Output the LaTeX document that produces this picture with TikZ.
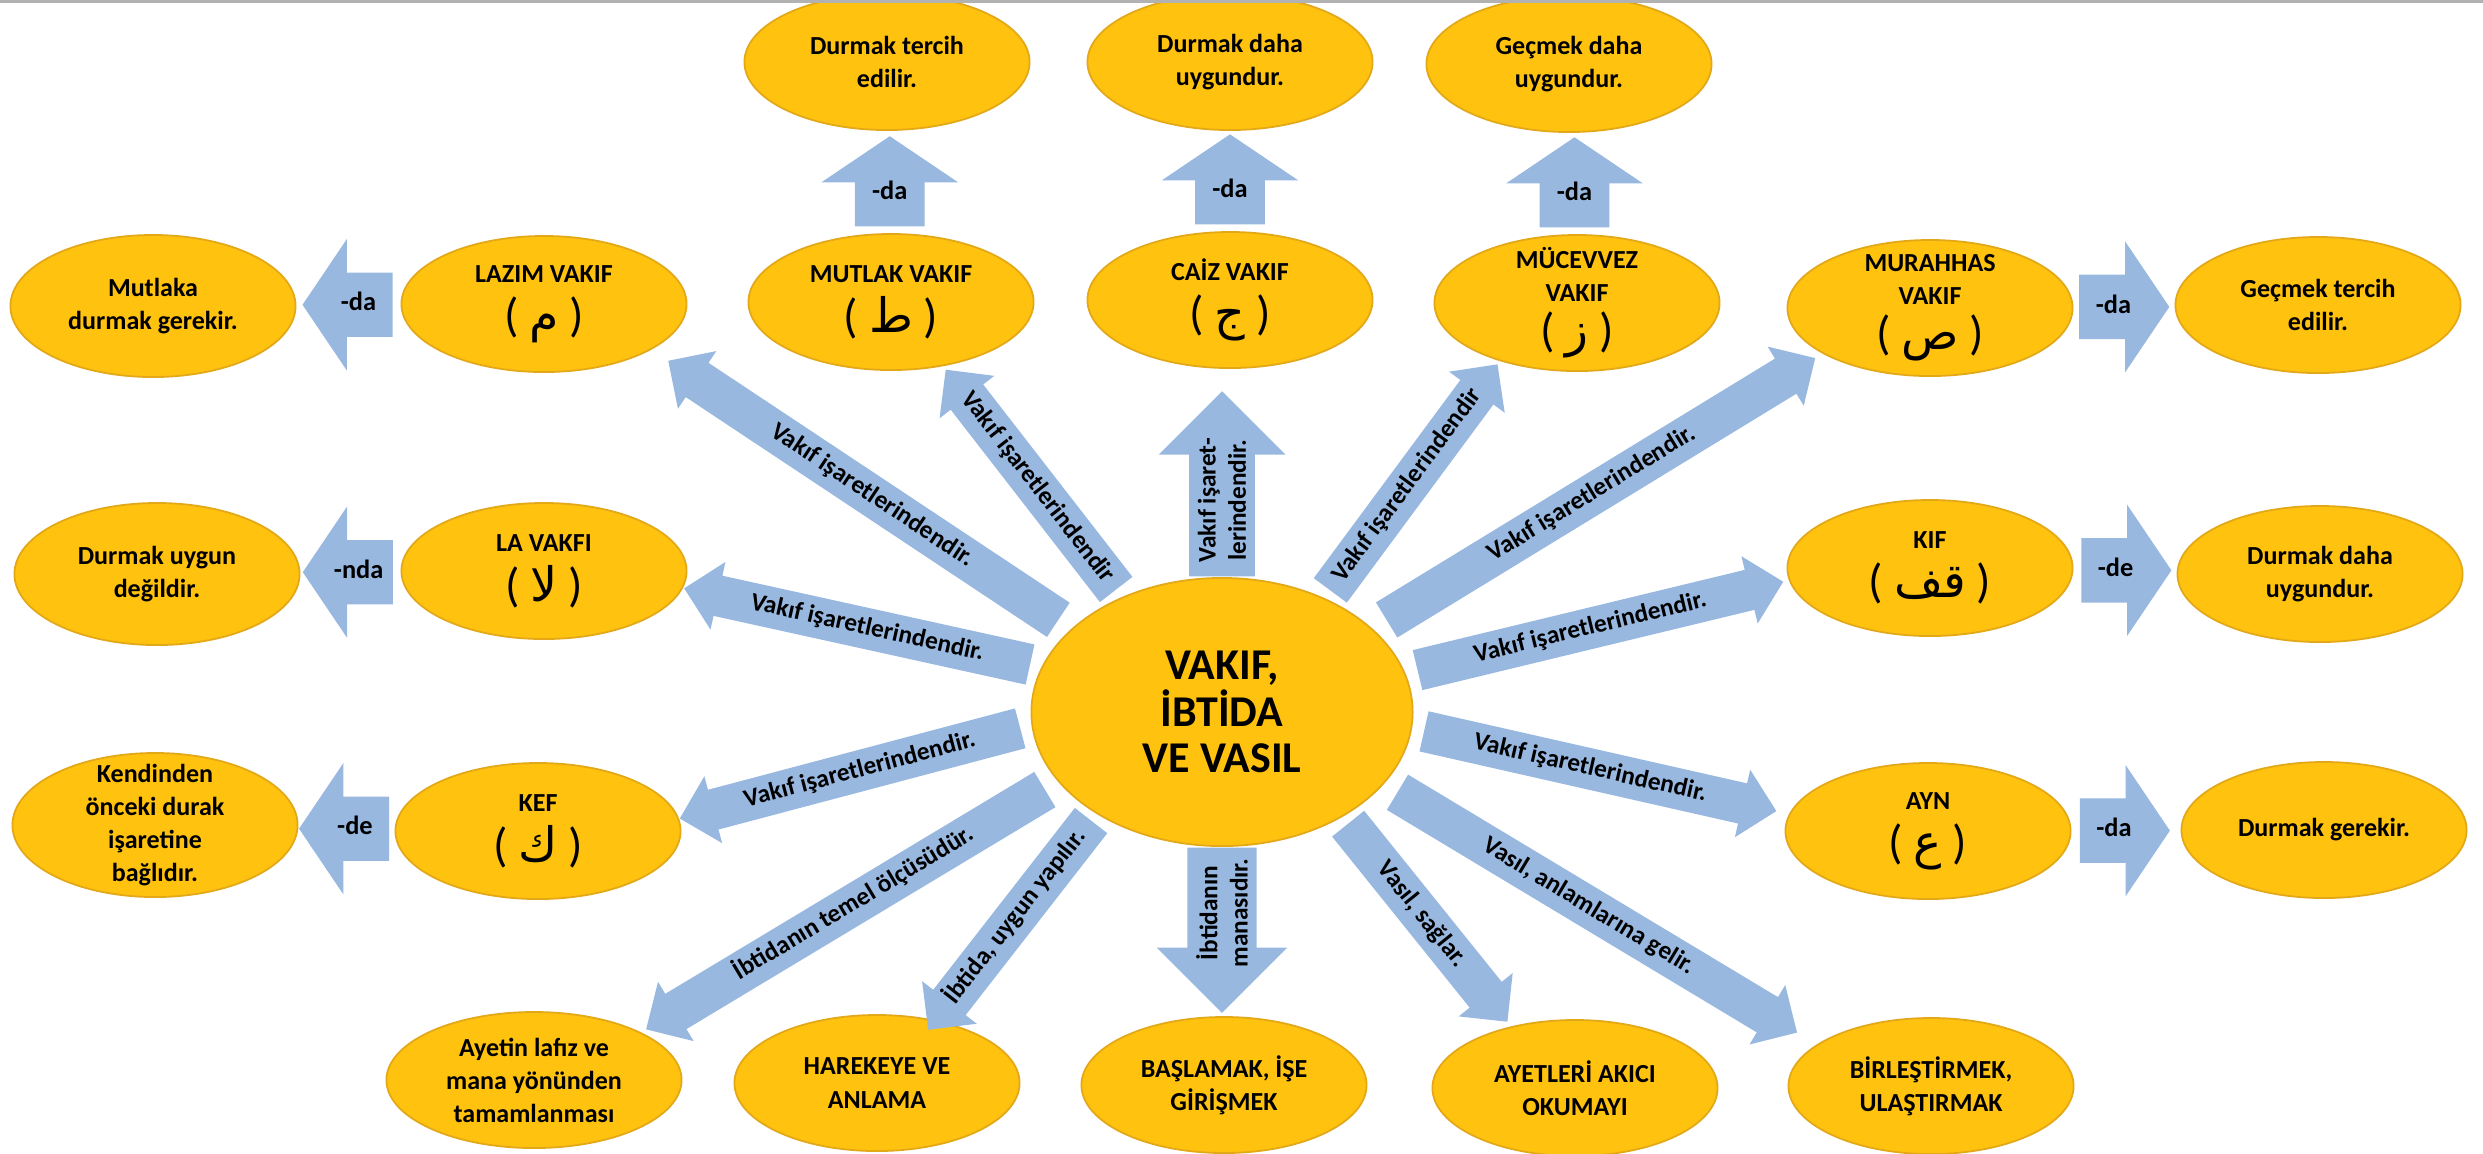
\documentclass[tikz,border=0pt]{standalone}
\usepackage{fontspec}
\setmainfont{Carlito}
\newfontfamily\arabicfont[Script=Arabic]{DejaVu Sans}
\TeXXeTstate=1
\usetikzlibrary{shapes.geometric,shapes.arrows}
\definecolor{vgold}{RGB}{255,194,14}
\definecolor{vrim}{RGB}{226,168,24}
\definecolor{vblue}{RGB}{152,184,224}

\begin{document}
\begin{tikzpicture}[x=0.01cm,y=-0.01cm,
  oval/.style={ellipse,fill=vgold,draw=vrim,line width=0.5pt,minimum width=2.85cm,minimum height=1.36cm,
    inner xsep=0pt,inner ysep=-6pt,align=center,font=\fontsize{7.4}{9.4}\selectfont\bfseries},
  hub/.style={oval,minimum width=3.81cm,minimum height=2.68cm,font=\fontsize{12.5}{13.2}\selectfont\bfseries},
  spoke/.style={single arrow,fill=vblue,single arrow tip angle=90,inner xsep=0pt,sloped,anchor=tail,
    font=\fontsize{7.2}{8.6}\selectfont\bfseries},
  oneline/.style={text height=5pt,text depth=1.5pt,inner ysep=2.4pt,single arrow head extend=4pt},
  twoline/.style={align=center,inner ysep=2.3pt,single arrow head extend=8.7pt},
  tipback/.style={shape border rotate=180},
  tipup/.style={shape border rotate=90,inner xsep=4.7pt},
  tag/.style={single arrow,fill=vblue,single arrow tip angle=112,single arrow head extend=9.5pt,
    inner xsep=-2pt,inner ysep=5.7pt,text height=5pt,text depth=1.5pt,minimum height=0.9cm,anchor=tail,
    font=\fontsize{7.5}{9}\selectfont\bfseries}]
  \useasboundingbox (0,0) rectangle (2483,1153);
  \node[hub] (c) at (1222,712) {VAKIF,\\İBTİDA\\VE VASIL};
  \node[oval] (rtercih) at (887,62) {Durmak tercih\\edilir.};
  \node[oval] (rdaha) at (1230,62) {Durmak daha\\uygundur.};
  \node[oval] (rgecmek) at (1569,64) {Geçmek daha\\uygundur.};
  \node[oval,minimum height=1.42cm] (mutlaka) at (153,306) {Mutlaka\\durmak gerekir.};
  \node[oval] (lazim) at (544,304)
    {LAZIM VAKIF\\[3pt]{\mdseries\fontsize{13.5}{15}\selectfont(~{\arabicfont\beginR م\endR}~)}};
  \node[oval] (mutlak) at (891,302)
    {MUTLAK VAKIF\\[3pt]{\mdseries\fontsize{13.5}{15}\selectfont(~{\arabicfont\beginR ط\endR}~)}};
  \node[oval] (caiz) at (1230,300)
    {CAİZ VAKIF\\[3pt]{\mdseries\fontsize{13.5}{15}\selectfont(~{\arabicfont\beginR ج\endR}~)}};
  \node[oval] (mucevvez) at (1577,303)
    {MÜCEVVEZ\\VAKIF\\[2pt]{\mdseries\fontsize{13.5}{15}\selectfont(~{\arabicfont\beginR ز\endR}~)}};
  \node[oval] (murahhas) at (1930,308)
    {MURAHHAS\\VAKIF\\[2pt]{\mdseries\fontsize{13.5}{15}\selectfont(~{\arabicfont\beginR ص\endR}~)}};
  \node[oval] (gtercih) at (2318,305) {Geçmek tercih\\edilir.};
  \node[oval,minimum height=1.42cm] (duygun) at (157,574) {Durmak uygun\\değildir.};
  \node[oval] (lavakfi) at (544,571)
    {LA VAKFI\\[3pt]{\mdseries\fontsize{13.5}{15}\selectfont(~{\arabicfont\beginR لا\endR}~)}};
  \node[oval] (kif) at (1930,568)
    {KIF\\[3pt]{\mdseries\fontsize{13.5}{15}\selectfont(~{\arabicfont\beginR قف\endR}~)}};
  \node[oval] (ddaha) at (2320,574) {Durmak daha\\uygundur.};
  \node[oval,minimum height=1.44cm] (kendinden) at (155,825)
    {Kendinden\\önceki durak\\işaretine\\bağlıdır.};
  \node[oval] (kef) at (538,831)
    {KEF\\[3pt]{\mdseries\fontsize{13.5}{15}\selectfont(~{\arabicfont\beginR ك\endR}~)}};
  \node[oval] (ayn) at (1928,831)
    {AYN\\[3pt]{\mdseries\fontsize{13.5}{15}\selectfont(~{\arabicfont\beginR ع\endR}~)}};
  \node[oval] (dgerekir) at (2324,830) {Durmak gerekir.};
  \node[oval,minimum width=2.95cm] (ayetin) at (534,1080)
    {Ayetin lafız ve\\mana yönünden\\tamamlanması};
  \node[oval] (harekeye) at (877,1083) {HAREKEYE VE\\ANLAMA};
  \node[oval] (baslamak) at (1224,1085) {BAŞLAMAK, İŞE\\GİRİŞMEK};
  \node[oval] (ayetleri) at (1575,1088) {AYETLERİ AKICI\\OKUMAYI};
  \node[oval] (birlestirmek) at (1931,1086) {BİRLEŞTİRMEK,\\ULAŞTIRMAK};
  \path (c.151) -- (lazim.-23) node[pos=0.03,spoke,oneline,tipback,minimum height=4.68cm]
    {Vakıf işaretlerindendir.};
  \path (c.131) -- (mutlak.-51) node[pos=0.03,spoke,oneline,tipback,minimum height=2.78cm]
    {Vakıf işaretlerindendir};
  \path (c) -- (c |- caiz.south) node[pos=0,spoke,twoline,minimum height=1.85cm]
    {Vakıf işaret-\\lerindendir.};
  \path (c.48) -- (mucevvez.217) node[pos=0.03,spoke,oneline,minimum height=2.81cm]
    {Vakıf işaretlerindendir};
  \path (c.29) -- (murahhas.203) node[pos=0.03,spoke,oneline,minimum height=5.02cm]
    {Vakıf işaretlerindendir.};
  \path (c.166) -- (lavakfi.-7) node[pos=0.03,spoke,oneline,tipback,minimum height=3.54cm]
    {Vakıf işaretlerindendir.};
  \path (c.12) -- (kif.185) node[pos=0.03,spoke,oneline,minimum height=3.76cm]
    {Vakıf işaretlerindendir.};
  \path (c.184) -- (kef.5) node[pos=0.03,spoke,oneline,tipback,minimum height=3.52cm]
    {Vakıf işaretlerindendir.};
  \path (c.-5) -- (ayn.173) node[pos=0.03,spoke,oneline,minimum height=3.61cm]
    {Vakıf işaretlerindendir.};
  \path (c.203) -- (ayetin.24) node[pos=0.03,spoke,oneline,tipback,minimum height=4.65cm]
    {İbtidanın temel ölçüsüdür.};
  \path (c.219) -- (harekeye.47) node[pos=0.03,spoke,oneline,tipback,minimum height=2.65cm]
    {İbtida, uygun yapılır.};
  \path (c |- baslamak.north) -- (c) node[pos=1,spoke,twoline,tipback,minimum height=1.65cm]
    {İbtidanın\\manasıdır.};
  \path (c.-41) -- (ayetleri.136) node[pos=0.03,spoke,oneline,minimum height=2.54cm]
    {Vasıl, sağlar.};
  \path (c.-24) -- (birlestirmek.160) node[pos=0.03,spoke,oneline,minimum height=4.66cm]
    {Vasıl, anlamlarına gelir.};
  \path (lazim) -- node[pos=0.07,tag,tipback] {-da} (mutlaka);
  \path (mutlak) -- node[pos=0.06,tag,tipup] {-da} (rtercih);
  \path (caiz) -- node[pos=0.06,tag,tipup] {-da} (rdaha);
  \path (mucevvez) -- node[pos=0.06,tag,tipup] {-da} (rgecmek);
  \path (murahhas) -- node[pos=0.05,tag] {-da} (gtercih);
  \path (lavakfi) -- node[pos=0.07,tag,tipback] {-nda} (duygun);
  \path (kif) -- node[pos=0.07,tag] {-de} (ddaha);
  \path (kef) -- node[pos=0.05,tag,tipback] {-de} (kendinden);
  \path (ayn) -- node[pos=0.07,tag] {-da} (dgerekir);
  \draw[line width=0.03cm,black!30] (0,1) -- (2483,1);
\end{tikzpicture}
\end{document}
